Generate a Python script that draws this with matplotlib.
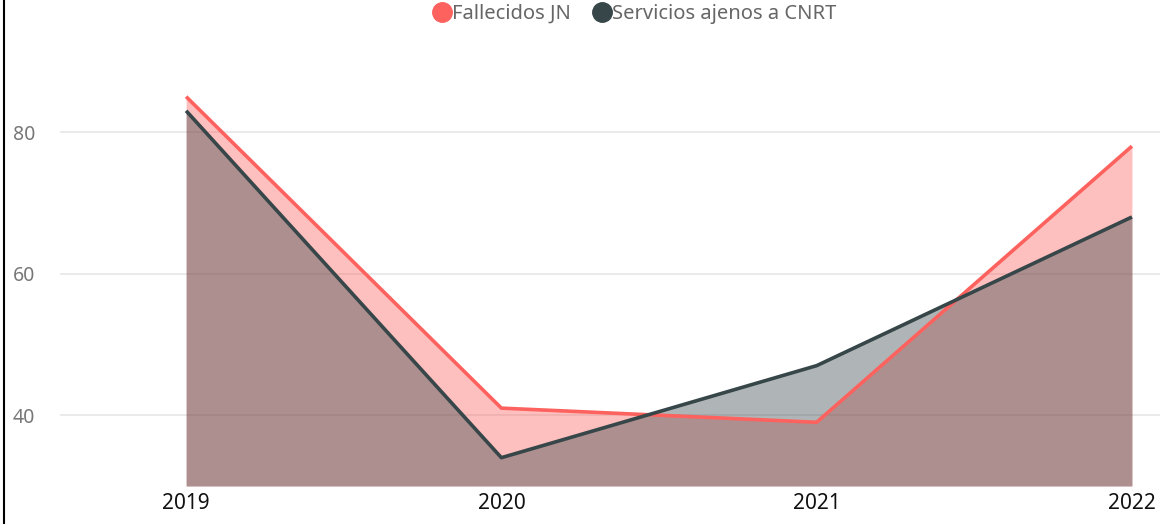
import matplotlib.pyplot as plt
from matplotlib.lines import Line2D

years = [2019, 2020, 2021, 2022]
fallecidos = [85, 41, 39, 78]
servicios = [83, 34, 47, 68]
labels = ["Fallecidos JN", "Servicios ajenos a CNRT"]
colors = ["#FD625E", "#374649"]

plt.rcParams['font.family'] = ['Noto Sans', 'DejaVu Sans']

fig = plt.figure(figsize=(11.6, 5.24), dpi=100)
ax = fig.add_axes([60 / 1160, 38 / 524, 1100 / 1160, 446 / 524])

ymin = 30
for vals, c, lab in zip([fallecidos, servicios], colors, labels):
    ax.fill_between(years, ymin, vals, color=c, alpha=0.4, linewidth=0, zorder=2)
    ax.plot(years, vals, color=c, linewidth=2.6, label=lab, zorder=3,
            solid_capstyle='butt')

ax.set_xlim(2018.6, 2022.089)
ax.set_ylim(ymin, 93)
ax.set_xticks(years)
ax.set_xticklabels([str(y) for y in years], fontsize=15, color='#111111')
ax.set_yticks([40, 60, 80])
ax.tick_params(axis='y', length=0, pad=18, labelsize=14, labelcolor='#777777')
ax.tick_params(axis='x', length=0, pad=5)
ax.grid(axis='y', color='#E6E6E6', linewidth=1.2, zorder=1)
ax.set_axisbelow(True)
for s in ax.spines.values():
    s.set_visible(False)

handles = [Line2D([], [], marker='o', linestyle='none', markersize=14,
                  markerfacecolor=c, markeredgecolor=c) for c in colors]
fig.legend(handles, labels, loc='upper center', bbox_to_anchor=(0.547, 1.027),
           ncol=2, frameon=False, fontsize=14.5, handletextpad=0.05,
           handlelength=0.9, columnspacing=1.1, labelcolor='#666666')

fig.add_artist(Line2D([4 / 1160, 4 / 1160], [0, 1], color='black',
                      linewidth=1.5, transform=fig.transFigure))

fig.savefig('out.png', dpi=100)
